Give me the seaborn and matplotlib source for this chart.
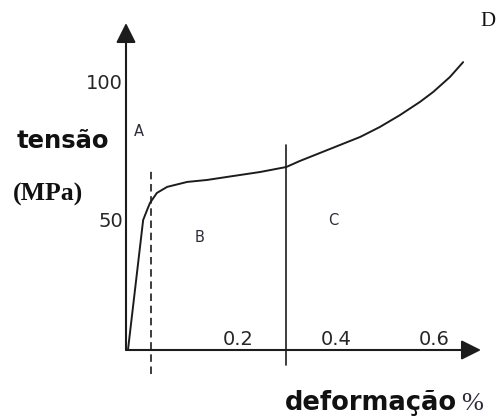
import matplotlib
matplotlib.use("Agg")
import matplotlib.pyplot as plt
import seaborn as sns

# Stress-strain curve (strain in %, stress in MPa)
strain = [0.004, 0.035, 0.043, 0.049, 0.063, 0.084, 0.125, 0.165, 0.206,
          0.274, 0.327, 0.355, 0.396, 0.437, 0.478, 0.518, 0.559, 0.600, 0.627,
          0.661, 0.688]
stress = [0.0, 47.1, 50.7, 53.3, 56.9, 59.1, 60.9, 61.6, 62.7,
          64.5, 66.3, 68.5, 71.4, 74.3, 77.2, 80.8, 85.1, 89.9, 93.5,
          98.9, 104.3]

# Region markers
yield_strain = 0.051      # dashed line: end of the elastic region
boundary_strain = 0.327   # solid line between regions B and C
region_labels = ["A", "B", "C"]
region_x = [0.027, 0.151, 0.422]
region_y = [79.0, 40.9, 47.1]

# Axis tick labels
xticks = [0.2, 0.4, 0.6]
xtick_labels = ["0.2", "0.4", "0.6"]
yticks = [50, 100]
ytick_labels = ["50", "100"]

W, H = 498, 419
X0, Y0 = 126, 350          # origin position in pixels
PX_STRAIN, PX_MPA = 490.0, 2.76

sns.set_style("white")
plt.rcParams["font.family"] = ["DejaVu Sans"]

fig = plt.figure(figsize=(W / 100, H / 100), dpi=100)
ax = fig.add_axes([0, 0, 1, 1])
ax.set_xlim(-X0 / PX_STRAIN, (W - X0) / PX_STRAIN)
ax.set_ylim(-(H - Y0) / PX_MPA, Y0 / PX_MPA)
ax.set_axis_off()

ink = "#1c1c1c"

# Axes with arrow heads
x_end = (481 - X0) / PX_STRAIN
y_end = (Y0 - 23) / PX_MPA
arrow = dict(arrowstyle="-|>,head_length=1.0,head_width=0.5", mutation_scale=12,
             color=ink, lw=1.5, shrinkA=0, shrinkB=0)
ax.annotate("", xy=(x_end, 0), xytext=(0, 0), arrowprops=arrow)
ax.annotate("", xy=(0, y_end), xytext=(0, 0), arrowprops=arrow)

# Curve
sns.lineplot(x=strain, y=stress, ax=ax, color=ink, lw=1.4, sort=False,
             estimator=None)

# Region separators
ax.plot([yield_strain, yield_strain], [-8.7, 65.9], color=ink, lw=1.2,
        dashes=(4.5, 2.8))
ax.plot([boundary_strain, boundary_strain], [-5.4, 74.3], color=ink, lw=1.2)

# Region letters
for lab, rx, ry in zip(region_labels, region_x, region_y):
    ax.text(rx, ry, lab, ha="center", va="center", fontsize=10.5,
            color="#2b2b3b")

# Tick labels
for t, lab in zip(xticks, xtick_labels):
    ax.annotate(lab, xy=(t, 0), xytext=(-1, 3.8), textcoords="offset points",
                ha="left", va="baseline", fontsize=14, color="#262626")
for t, lab in zip(yticks, ytick_labels):
    ax.annotate(lab, xy=(0, t), xytext=(-2, 0), textcoords="offset points",
                ha="right", va="top", fontsize=14, color="#262626")


def ftext(px, py, s, **kw):
    fig.text(px / W, 1 - py / H, s, **kw)


ftext(17, 148, "tensão", fontsize=17.5, fontweight="bold", color="#111",
      va="baseline", ha="left")
ftext(13, 201, "(MPa)", fontsize=18.5, fontweight="bold", color="#111",
      family="Liberation Serif", va="baseline", ha="left")
ftext(285, 410, "deformação", fontsize=18.5, fontweight="bold", color="#111",
      va="baseline", ha="left")
ftext(461, 410, "%", fontsize=19, color="#2a2a3a", family="Liberation Serif",
      va="baseline", ha="left")
ftext(488, 21, "D", fontsize=15, color="#111", family="Liberation Serif",
      va="center", ha="center")

fig.savefig("out.png", dpi=100, facecolor="white")
